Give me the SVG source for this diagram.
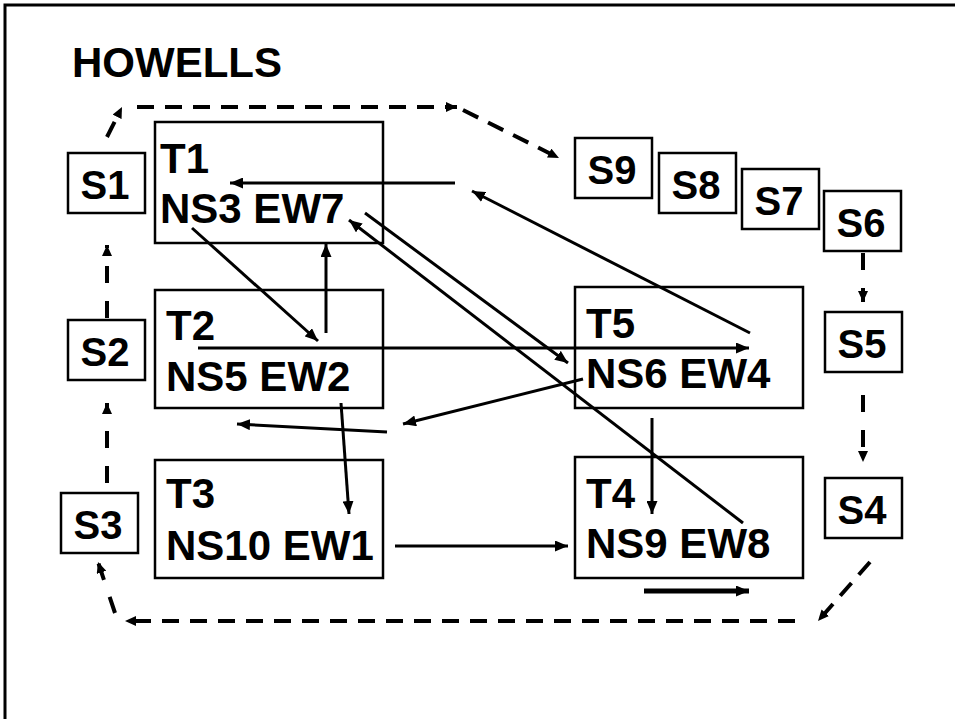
<svg xmlns="http://www.w3.org/2000/svg" width="955" height="719" viewBox="0 0 955 719">
<style>
text{font-family:"Liberation Sans",Arial,sans-serif;font-weight:bold;fill:#000}
.t{font-size:42px}
.s{font-size:40px;text-anchor:middle}
.box{fill:#fff;stroke:#000;stroke-width:2.5}
.ln{stroke:#000;stroke-width:3;fill:none}
.thick{stroke-width:5}
.dh{stroke:#000;stroke-width:4;fill:none;stroke-dasharray:17 11}
.dv{stroke:#000;stroke-width:4;fill:none;stroke-dasharray:17 18}
</style>
<defs>
<marker id="arr" markerUnits="userSpaceOnUse" markerWidth="13" markerHeight="11" refX="13" refY="5.5" orient="auto">
<path d="M0,0 L13,5.5 L0,11 z" fill="#000"/>
</marker>
<marker id="darr" markerUnits="userSpaceOnUse" markerWidth="11" markerHeight="10" refX="11" refY="5" orient="auto">
<path d="M0,0 L11,5 L0,10 z" fill="#000"/>
</marker>
</defs>
<rect width="955" height="719" fill="#fff"/>
<path d="M5,719 V5 H955" fill="none" stroke="#000" stroke-width="3"/>
<text class="t" x="72" y="77">HOWELLS</text>

<g id="T1"><rect class="box" x="155" y="122" width="228" height="121"/><text class="t" x="160" y="173">T1</text><text class="t" x="160" y="223">NS3 EW7</text></g>
<g id="T2"><rect class="box" x="155" y="290" width="228" height="118"/><text class="t" x="166" y="340">T2</text><text class="t" x="166" y="391">NS5 EW2</text></g>
<g id="T3"><rect class="box" x="155" y="460" width="228" height="118"/><text class="t" x="166" y="508">T3</text><text class="t" x="166" y="560">NS10 EW1</text></g>
<g id="T5"><rect class="box" x="575" y="287" width="228" height="121"/><text class="t" x="586" y="338">T5</text><text class="t" x="586" y="388">NS6 EW4</text></g>
<g id="T4"><rect class="box" x="575" y="457" width="228" height="121"/><text class="t" x="586" y="508">T4</text><text class="t" x="586" y="558">NS9 EW8</text></g>

<g id="S1"><rect class="box" x="68" y="153" width="77" height="60"/><text class="s" x="105" y="199">S1</text></g>
<g id="S2"><rect class="box" x="68" y="320" width="77" height="60"/><text class="s" x="105" y="366">S2</text></g>
<g id="S3"><rect class="box" x="61" y="493" width="77" height="60"/><text class="s" x="98" y="539">S3</text></g>
<g id="S4"><rect class="box" x="825" y="478" width="77" height="60"/><text class="s" x="862" y="524">S4</text></g>
<g id="S5"><rect class="box" x="825" y="312" width="77" height="60"/><text class="s" x="862" y="358">S5</text></g>
<g id="S6"><rect class="box" x="824" y="191" width="77" height="60"/><text class="s" x="861" y="237">S6</text></g>
<g id="S7"><rect class="box" x="742" y="169" width="77" height="60"/><text class="s" x="779" y="215">S7</text></g>
<g id="S8"><rect class="box" x="659" y="153" width="77" height="60"/><text class="s" x="696" y="199">S8</text></g>
<g id="S9"><rect class="box" x="575" y="138" width="77" height="60"/><text class="s" x="612" y="184">S9</text></g>

<g id="connectors">
<line class="ln" x1="455" y1="183" x2="230" y2="183" marker-end="url(#arr)"/>
<line class="ln" x1="750" y1="333" x2="472" y2="191" marker-end="url(#arr)"/>
<line class="ln" x1="192" y1="228" x2="318" y2="341" marker-end="url(#arr)"/>
<line class="ln" x1="326" y1="333" x2="326" y2="244" marker-end="url(#arr)"/>
<line class="ln" x1="198" y1="348" x2="749" y2="348" marker-end="url(#arr)"/>
<line class="ln" x1="365" y1="213" x2="568" y2="363" marker-end="url(#arr)"/>
<line class="ln" x1="743" y1="523" x2="349" y2="220" marker-end="url(#arr)"/>
<line class="ln" x1="583" y1="379" x2="403" y2="424" marker-end="url(#arr)"/>
<line class="ln" x1="387" y1="432" x2="237" y2="424" marker-end="url(#arr)"/>
<line class="ln" x1="341" y1="403" x2="349" y2="514" marker-end="url(#arr)"/>
<line class="ln" x1="652" y1="418" x2="652" y2="514" marker-end="url(#arr)"/>
<line class="ln" x1="395" y1="546" x2="568" y2="546" marker-end="url(#arr)"/>
<line class="ln thick" x1="644" y1="591" x2="749" y2="591" marker-end="url(#arr)"/>

<line class="dv" x1="107" y1="137" x2="122" y2="107" marker-end="url(#darr)"/>
<line class="dh" x1="137" y1="107" x2="457" y2="107" marker-end="url(#darr)"/>
<line class="dh" x1="463" y1="110" x2="559" y2="158" marker-end="url(#darr)"/>
<line class="dv" x1="863" y1="253" x2="863" y2="302" marker-end="url(#darr)"/>
<line class="dv" x1="863" y1="395" x2="863" y2="462" marker-end="url(#darr)"/>
<line class="dh" x1="870" y1="562" x2="818" y2="621" marker-end="url(#darr)"/>
<line class="dh" x1="795" y1="621" x2="125" y2="621" marker-end="url(#darr)"/>
<line class="dv" x1="115" y1="613" x2="98" y2="562" marker-end="url(#darr)"/>
<line class="dv" x1="107" y1="483" x2="107" y2="403" marker-end="url(#darr)"/>
<line class="dv" x1="107" y1="318" x2="107" y2="245" marker-end="url(#darr)"/>
</g>
</svg>
